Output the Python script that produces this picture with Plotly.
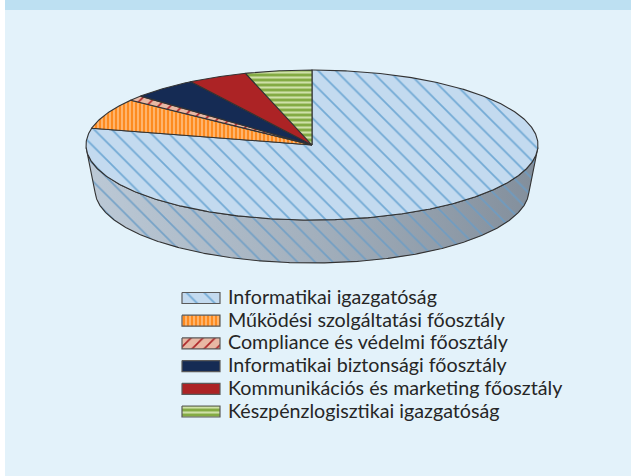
import numpy as np
import plotly.graph_objects as go

categories = ["Informatikai igazgatóság", "Működési szolgáltatási főosztály",
              "Compliance és védelmi főosztály", "Informatikai biztonsági főosztály",
              "Kommunikációs és marketing főosztály", "Készpénzlogisztikai igazgatóság"]
shares = [78.6, 6.6, 1.1, 4.7, 4.25, 4.75]

W, H = 631, 476
CX, CY, RX, RY = 312, 145, 226, 75
BCY, BRX, BRY = 190, 217, 73
OUT = "#333333"

styles = [
    dict(shape="\\", bgcolor="#c3daef", fgcolor="#72aad5", fgopacity=1, fillmode="replace", size=12.5, solidity=0.14),
    dict(shape="|", bgcolor="#fd8b20", fgcolor="#ffbf80", fgopacity=1, fillmode="replace", size=4, solidity=0.4),
    dict(shape="/", bgcolor="#e8b8a4", fgcolor="#ad2428", fgopacity=1, fillmode="replace", size=8.5, solidity=0.2),
    dict(shape="", bgcolor="#152b54", fgcolor="#152b54"),
    dict(shape="", bgcolor="#ac2325", fgcolor="#ac2325"),
    dict(shape="-", bgcolor="#84ab44", fgcolor="#cfe0a8", fgopacity=1, fillmode="replace", size=5, solidity=0.42),
]


def rim(a0, a1, cy=CY, rx=RX, ry=RY):
    t = np.radians(np.linspace(a0, a1, max(3, int(abs(a1 - a0) * 2))))
    return CX + rx * np.sin(t), cy - ry * np.cos(t)


def fill_kw(st):
    return dict(fillpattern=st) if st["shape"] else dict(fillcolor=st["bgcolor"])


fig = go.Figure()

# side wall
ta = np.radians(np.linspace(92, 268, 400))
top_x, top_y = CX + RX * np.sin(ta), CY - RY * np.cos(ta)
bot_x, bot_y = CX + BRX * np.sin(ta[::-1]), BCY - BRY * np.cos(ta[::-1])
side_x = np.r_[top_x, bot_x, top_x[0]]
side_y = np.r_[top_y, bot_y, top_y[0]]
fig.add_trace(go.Scatter(x=side_x, y=side_y, mode="none", fill="toself", showlegend=False, hoverinfo="skip",
                         fillgradient=dict(type="horizontal",
                                           colorscale=[[0, "#bcc9d6"], [0.5, "#a3b0bd"], [1, "#828e9b"]])))
fig.add_trace(go.Scatter(x=side_x, y=side_y, mode="lines", fill="toself", showlegend=False, hoverinfo="skip",
                         line=dict(color=OUT, width=1.1), fillcolor="rgba(0,0,0,0)",
                         fillpattern=dict(shape="\\", bgcolor="rgba(0,0,0,0)", fgcolor="#6a9cc6", fgopacity=0.85,
                                          fillmode="replace", size=12.5, solidity=0.14)))

# top face slices, clockwise from 12 o'clock
edges = np.cumsum([0] + shares) / sum(shares) * 360
for name, a0, a1, st in zip(categories, edges[:-1], edges[1:], styles):
    rx_, ry_ = rim(a0, a1)
    fig.add_trace(go.Scatter(x=np.r_[CX, rx_, CX], y=np.r_[CY, ry_, CY], mode="lines", fill="toself",
                             name=name, hoverinfo="name", showlegend=False,
                             line=dict(color=OUT, width=1.1), **fill_kw(st)))

# legend: swatches and text
annotations = []
for i, (name, st) in enumerate(zip(categories, styles)):
    yc = 298 + i * 22.7
    fig.add_trace(go.Scatter(x=[182, 220, 220, 182, 182], y=[yc - 5.5, yc - 5.5, yc + 5.5, yc + 5.5, yc - 5.5],
                             mode="lines", fill="toself", showlegend=False, hoverinfo="skip",
                             line=dict(color="#5a5a5a", width=1.2), **fill_kw(st)))
    annotations.append(dict(x=226, y=yc - 1.5, xref="x", yref="y", xanchor="left", yanchor="middle", text=name,
                            showarrow=False, font=dict(family="Lato", size=19.7, color="#262626")))

fig.update_layout(
    width=W, height=H, autosize=False,
    margin=dict(l=0, r=0, t=0, b=0),
    paper_bgcolor="#ffffff", plot_bgcolor="rgba(0,0,0,0)",
    xaxis=dict(range=[0, W], visible=False, fixedrange=True),
    yaxis=dict(range=[H, 0], visible=False, fixedrange=True),
    shapes=[
        dict(type="rect", xref="paper", yref="paper", x0=5/W, x1=1, y0=0, y1=1, layer="below",
             fillcolor="#e3f2fa", line_width=0),
        dict(type="rect", xref="paper", yref="paper", x0=5/W, x1=1, y0=1-10/H, y1=1, layer="below",
             fillcolor="#bde0f2", line_width=0),
    ],
    annotations=annotations,
    showlegend=False,
)
fig.write_html("out.html", config=dict(displayModeBar=False),
               post_script="document.body.style.margin='0';document.body.style.overflow='hidden';")
